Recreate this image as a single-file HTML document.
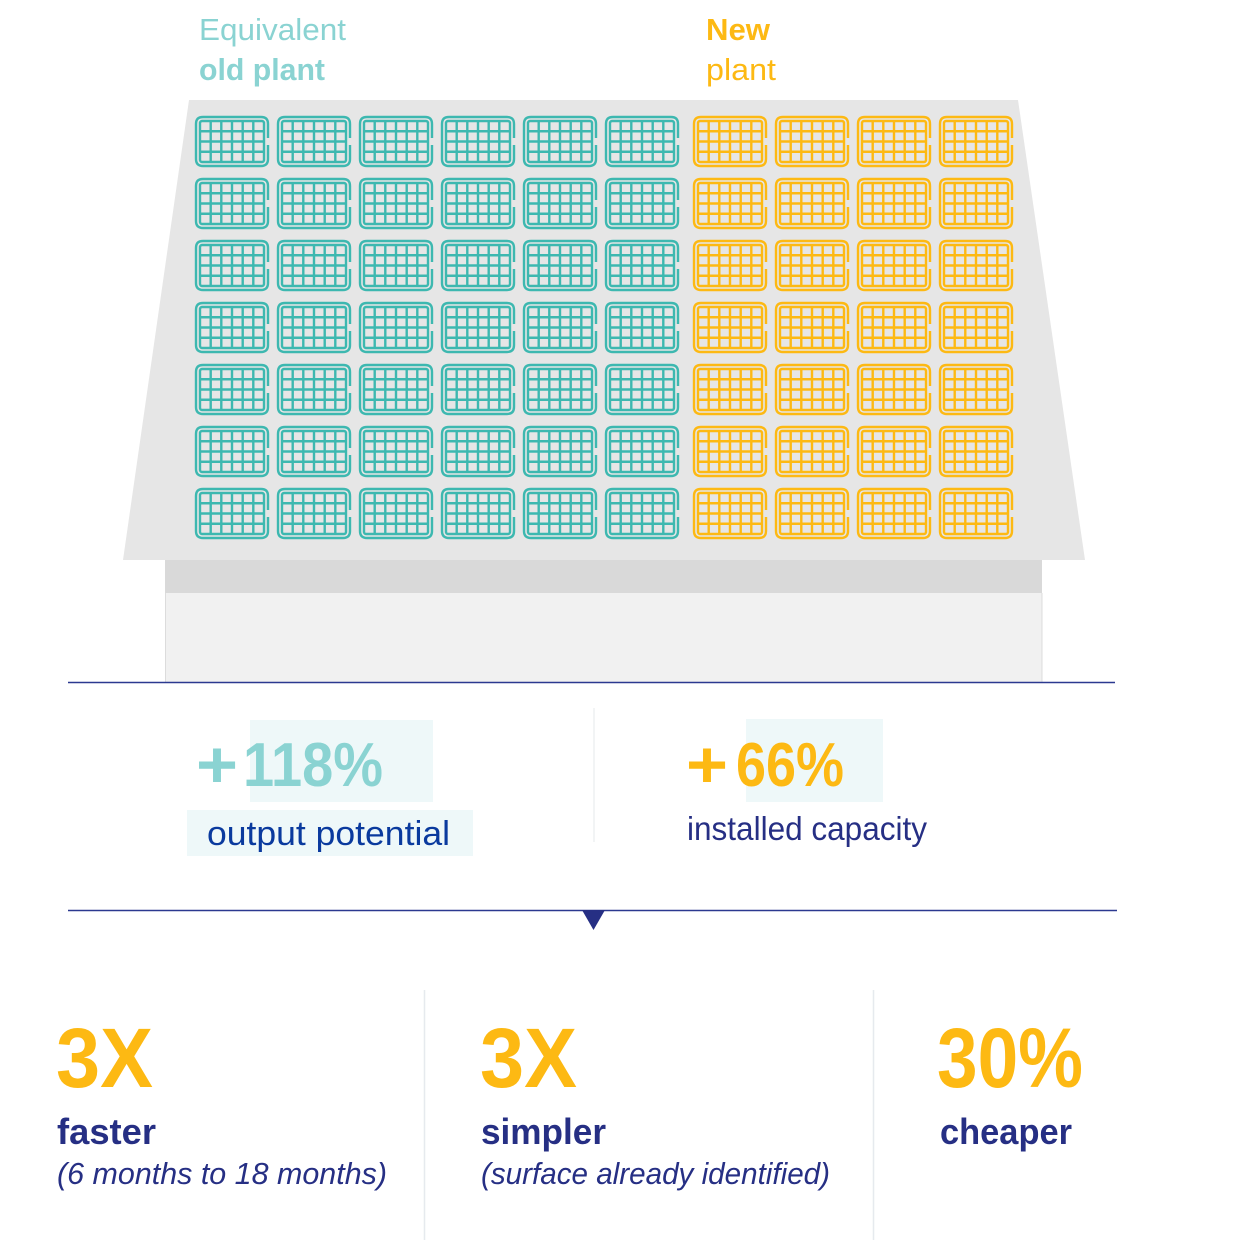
<!DOCTYPE html>
<html><head><meta charset="utf-8">
<style>
html,body{margin:0;padding:0;background:#fff;}
svg{display:block;}
text{font-family:"Liberation Sans",sans-serif;}
</style></head>
<body>
<svg width="1246" height="1240" viewBox="0 0 1246 1240" xmlns="http://www.w3.org/2000/svg">
<defs>
<g id="pn" fill="none" stroke-width="2.4">
<path d="M73,22 V8 Q73,1 66,1 H8 Q1,1 1,8 V43 Q1,50 8,50 H66 Q73,50 73,43 V29"/>
<rect x="5" y="5" width="64" height="41" rx="2"/>
<path d="M15.7,5V46M26.3,5V46M37,5V46M47.7,5V46M58.3,5V46M5,15.25H69M5,25.5H69M5,35.75H69"/>
</g>
</defs>
<polygon points="189,100 1018,100 1085,560 123,560" fill="#e6e6e6"/>
<rect x="165" y="560" width="877" height="33" fill="#d9d9d9"/>
<rect x="165" y="593" width="877" height="89" fill="#f1f1f1"/>
<line x1="165.5" y1="593" x2="165.5" y2="682" stroke="#dcdcdc"/>
<line x1="1042" y1="593" x2="1042" y2="682" stroke="#dcdcdc"/>
<g stroke="#3db8b0">
<g transform="translate(195,116)">
<use href="#pn" x="0"/><use href="#pn" x="82"/><use href="#pn" x="164"/><use href="#pn" x="246"/><use href="#pn" x="328"/><use href="#pn" x="410"/>
<use href="#pn" x="0" y="62"/><use href="#pn" x="82" y="62"/><use href="#pn" x="164" y="62"/><use href="#pn" x="246" y="62"/><use href="#pn" x="328" y="62"/><use href="#pn" x="410" y="62"/>
<use href="#pn" x="0" y="124"/><use href="#pn" x="82" y="124"/><use href="#pn" x="164" y="124"/><use href="#pn" x="246" y="124"/><use href="#pn" x="328" y="124"/><use href="#pn" x="410" y="124"/>
<use href="#pn" x="0" y="186"/><use href="#pn" x="82" y="186"/><use href="#pn" x="164" y="186"/><use href="#pn" x="246" y="186"/><use href="#pn" x="328" y="186"/><use href="#pn" x="410" y="186"/>
<use href="#pn" x="0" y="248"/><use href="#pn" x="82" y="248"/><use href="#pn" x="164" y="248"/><use href="#pn" x="246" y="248"/><use href="#pn" x="328" y="248"/><use href="#pn" x="410" y="248"/>
<use href="#pn" x="0" y="310"/><use href="#pn" x="82" y="310"/><use href="#pn" x="164" y="310"/><use href="#pn" x="246" y="310"/><use href="#pn" x="328" y="310"/><use href="#pn" x="410" y="310"/>
<use href="#pn" x="0" y="372"/><use href="#pn" x="82" y="372"/><use href="#pn" x="164" y="372"/><use href="#pn" x="246" y="372"/><use href="#pn" x="328" y="372"/><use href="#pn" x="410" y="372"/>
</g>
</g>
<g stroke="#fdb913">
<g transform="translate(693,116)">
<use href="#pn" x="0"/><use href="#pn" x="82"/><use href="#pn" x="164"/><use href="#pn" x="246"/>
<use href="#pn" x="0" y="62"/><use href="#pn" x="82" y="62"/><use href="#pn" x="164" y="62"/><use href="#pn" x="246" y="62"/>
<use href="#pn" x="0" y="124"/><use href="#pn" x="82" y="124"/><use href="#pn" x="164" y="124"/><use href="#pn" x="246" y="124"/>
<use href="#pn" x="0" y="186"/><use href="#pn" x="82" y="186"/><use href="#pn" x="164" y="186"/><use href="#pn" x="246" y="186"/>
<use href="#pn" x="0" y="248"/><use href="#pn" x="82" y="248"/><use href="#pn" x="164" y="248"/><use href="#pn" x="246" y="248"/>
<use href="#pn" x="0" y="310"/><use href="#pn" x="82" y="310"/><use href="#pn" x="164" y="310"/><use href="#pn" x="246" y="310"/>
<use href="#pn" x="0" y="372"/><use href="#pn" x="82" y="372"/><use href="#pn" x="164" y="372"/><use href="#pn" x="246" y="372"/>
</g>
</g>
<text x="199" y="40" font-size="31" fill="#8ad3d2" textLength="147" lengthAdjust="spacingAndGlyphs">Equivalent</text>
<text x="199" y="80" font-size="31" font-weight="bold" fill="#8ad3d2" textLength="126" lengthAdjust="spacingAndGlyphs">old plant</text>
<text x="706" y="40" font-size="31" font-weight="bold" fill="#fdb913" textLength="64" lengthAdjust="spacingAndGlyphs">New</text>
<text x="706" y="80" font-size="31" fill="#fdb913" textLength="70" lengthAdjust="spacingAndGlyphs">plant</text>
<line x1="68" y1="682.5" x2="1115" y2="682.5" stroke="#2b3990" stroke-width="1.5"/>
<rect x="250" y="720" width="183" height="82" fill="#eef8f9"/>
<rect x="187" y="810" width="286" height="46" fill="#eef8f9"/>
<text x="196" y="787" font-size="66" font-weight="bold" fill="#8ad3d2" textLength="42" lengthAdjust="spacingAndGlyphs">+</text>
<text x="243" y="786" font-size="62" font-weight="bold" fill="#8ad3d2" textLength="140" lengthAdjust="spacingAndGlyphs">118%</text>
<text x="207" y="845" font-size="34" fill="#0a3a9e" textLength="243" lengthAdjust="spacingAndGlyphs">output potential</text>
<line x1="594" y1="708" x2="594" y2="842" stroke="#eef0f2" stroke-width="1.5"/>
<rect x="746" y="719" width="137" height="83" fill="#eef8f9"/>
<text x="686" y="787" font-size="66" font-weight="bold" fill="#fdb913" textLength="42" lengthAdjust="spacingAndGlyphs">+</text>
<text x="736" y="786" font-size="62" font-weight="bold" fill="#fdb913" textLength="108" lengthAdjust="spacingAndGlyphs">66%</text>
<text x="687" y="840" font-size="33" fill="#262f84" textLength="240" lengthAdjust="spacingAndGlyphs">installed capacity</text>
<line x1="68" y1="910.5" x2="1117" y2="910.5" stroke="#2b3990" stroke-width="1.5"/>
<polygon points="582,910 605,910 593.5,930" fill="#262f84"/>
<line x1="424.5" y1="990" x2="424.5" y2="1240" stroke="#e6eaee" stroke-width="1.5"/>
<line x1="873.5" y1="990" x2="873.5" y2="1240" stroke="#e6eaee" stroke-width="1.5"/>
<text x="56" y="1087" font-size="84" font-weight="bold" fill="#fdb913" textLength="97" lengthAdjust="spacingAndGlyphs">3X</text>
<text x="480" y="1087" font-size="84" font-weight="bold" fill="#fdb913" textLength="97" lengthAdjust="spacingAndGlyphs">3X</text>
<text x="937" y="1087" font-size="84" font-weight="bold" fill="#fdb913" textLength="146" lengthAdjust="spacingAndGlyphs">30%</text>
<text x="57" y="1144" font-size="36" font-weight="bold" fill="#262f84" textLength="99" lengthAdjust="spacingAndGlyphs">faster</text>
<text x="481" y="1144" font-size="36" font-weight="bold" fill="#262f84" textLength="125" lengthAdjust="spacingAndGlyphs">simpler</text>
<text x="940" y="1144" font-size="36" font-weight="bold" fill="#262f84" textLength="132" lengthAdjust="spacingAndGlyphs">cheaper</text>
<text x="57" y="1184" font-size="31" font-style="italic" fill="#262f84" textLength="330" lengthAdjust="spacingAndGlyphs">(6 months to 18 months)</text>
<text x="481" y="1184" font-size="31" font-style="italic" fill="#262f84" textLength="349" lengthAdjust="spacingAndGlyphs">(surface already identified)</text>
</svg>
</body></html>
